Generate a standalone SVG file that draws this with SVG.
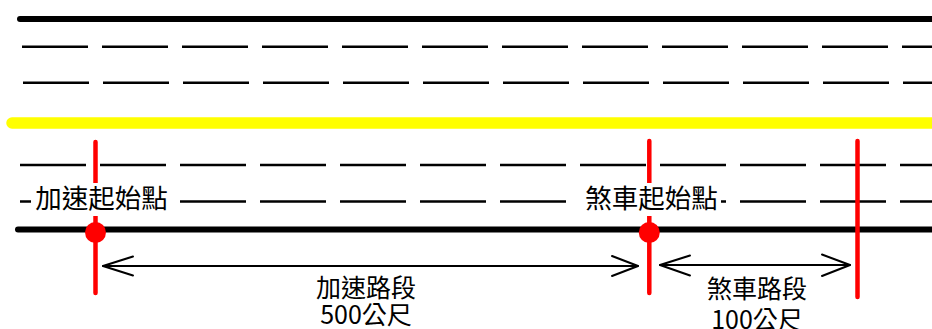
<svg xmlns="http://www.w3.org/2000/svg" width="932" height="329" viewBox="0 0 932 329">
<style>
.edge{stroke:#000;stroke-width:6;stroke-linecap:round;fill:none}
.dash{stroke:#000;stroke-width:2.5;stroke-dasharray:66 14;fill:none}
.red{stroke:#ff0000;stroke-width:4.5;stroke-linecap:round;fill:none}
.arrow{stroke:#000;stroke-width:2;fill:none;stroke-linecap:round;stroke-linejoin:round}
.lbl{font-family:"Noto Sans CJK TC","Noto Sans CJK SC",sans-serif;fill:#000}
</style>
<rect width="932" height="329" fill="#fff"/>
<g id="road">
<line class="edge" x1="20" y1="19" x2="940" y2="19"/>
<line class="dash" x1="22" y1="46.7" x2="940" y2="46.7"/>
<line class="dash" x1="23" y1="82.7" x2="940" y2="82.7"/>
<line x1="12" y1="123" x2="940" y2="123" stroke="#ffff00" stroke-width="11.5" stroke-linecap="round"/>
<line class="dash" x1="20" y1="165" x2="940" y2="165"/>
<line class="dash" x1="20" y1="201.5" x2="940" y2="201.5"/>
<line class="edge" x1="18" y1="229.5" x2="940" y2="229.5"/>
</g>
<g id="markers">
<line class="red" x1="95.5" y1="142" x2="95.5" y2="293"/>
<line class="red" x1="649.3" y1="141" x2="649.3" y2="293"/>
<line class="red" x1="857.5" y1="141" x2="857.5" y2="297"/>
<circle cx="95.5" cy="232.5" r="10.5" fill="#ff0000"/>
<circle cx="649.3" cy="232.5" r="10.5" fill="#ff0000"/>
</g>
<g id="accel-start">
<rect x="31" y="183" width="141" height="33" fill="#fff"/>
<text class="lbl" x="101.5" y="208" font-size="26.5" text-anchor="middle">加速起始點</text>
</g>
<g id="brake-start">
<rect x="580" y="183" width="141" height="33" fill="#fff"/>
<text class="lbl" x="651.5" y="208" font-size="26.5" text-anchor="middle">煞車起始點</text>
</g>
<g id="connectors">
<line class="arrow" x1="103" y1="266" x2="638" y2="266"/>
<polyline class="arrow" points="133,256.5 103,266 133,275.5"/>
<polyline class="arrow" points="612,256 638,266 612,276"/>
<line class="arrow" x1="660" y1="265" x2="850" y2="265"/>
<polyline class="arrow" points="690,255.5 660,265 690,275.5"/>
<polyline class="arrow" points="822,254.5 850,265 822,276"/>
</g>
<g id="accel-section">
<text class="lbl" x="366" y="297" font-size="25" text-anchor="middle">加速路段</text>
<text class="lbl" x="366" y="324" font-size="25" text-anchor="middle">500公尺</text>
</g>
<g id="brake-section">
<text class="lbl" x="757" y="298" font-size="25" text-anchor="middle">煞車路段</text>
<text class="lbl" x="757" y="329" font-size="25" text-anchor="middle">100公尺</text>
</g>
</svg>
